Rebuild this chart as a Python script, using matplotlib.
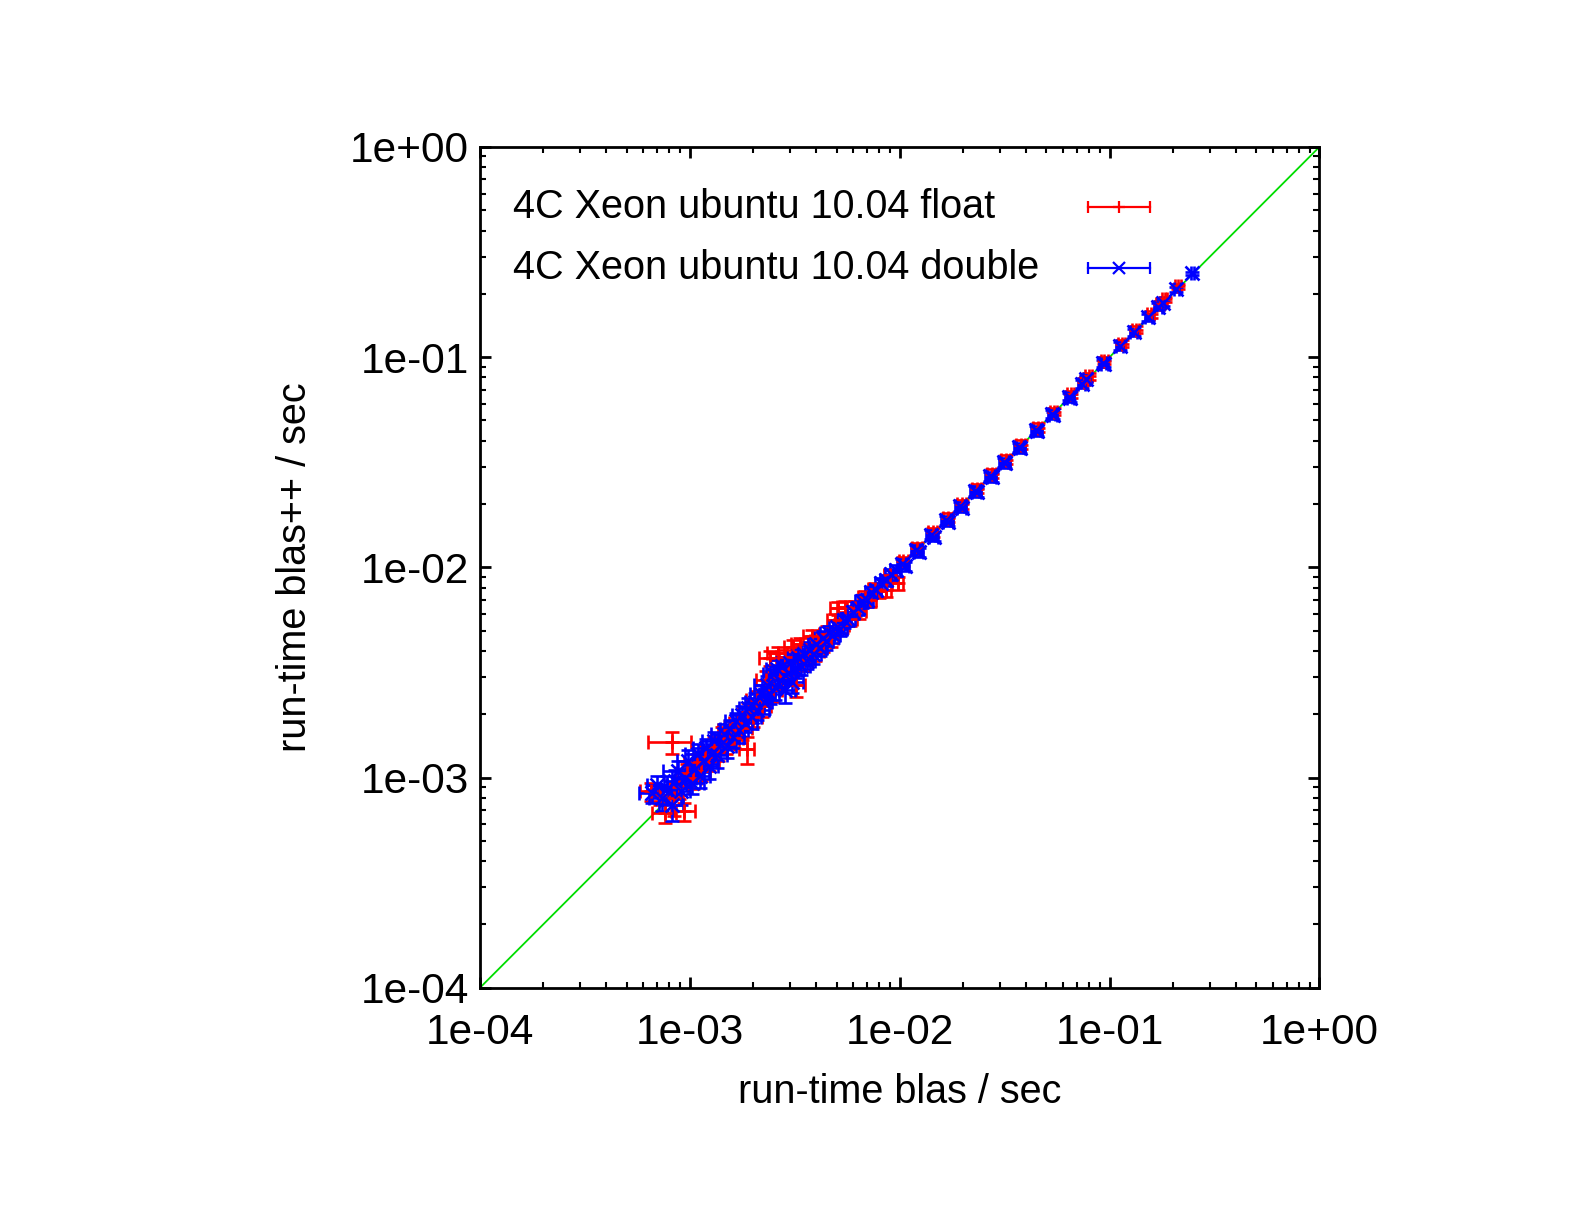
import numpy as np
import matplotlib
matplotlib.use("Agg")
import matplotlib.pyplot as plt
from matplotlib.ticker import FuncFormatter, LogLocator, NullFormatter

plt.rcParams['font.family'] = ['Liberation Sans', 'DejaVu Sans']

# ---- data ----
# float runs: x = run-time blas, y = run-time blas++, rx/ry = relative error
flt_x = [6.5e-4, 7.2e-4, 7.6e-4, 8.2e-4, 8.4e-4, 8.9e-4, 9.4e-4, 9.7e-4, 1.03e-3, 1.08e-3,
         1.13e-3, 1.18e-3, 1.24e-3, 1.3e-3, 1.36e-3, 1.42e-3, 1.48e-3, 1.55e-3, 1.62e-3, 1.7e-3,
         1.78e-3, 1.87e-3, 1.9e-3, 2.0e-3, 2.1e-3, 2.2e-3, 2.3e-3, 2.4e-3, 2.5e-3, 2.62e-3,
         2.7e-3, 2.85e-3, 2.95e-3, 3.1e-3, 3.2e-3, 3.35e-3, 3.45e-3, 3.6e-3, 3.8e-3, 3.95e-3,
         4.1e-3, 4.3e-3, 4.5e-3, 4.7e-3, 4.9e-3, 5.1e-3, 5.3e-3, 5.5e-3, 5.8e-3, 6.1e-3,
         6.4e-3, 6.8e-3, 7.2e-3, 7.6e-3, 8.0e-3, 8.6e-3, 9.0e-3, 9.8e-3,
         0.0104, 0.0121, 0.0144, 0.0170, 0.0197, 0.0233, 0.0275, 0.0320, 0.0377, 0.0455,
         0.0542, 0.0652, 0.0752, 0.0795, 0.0945, 0.114, 0.133, 0.157, 0.174, 0.183, 0.212]
flt_y = [8.6e-4, 8.3e-4, 6.8e-4, 1.47e-3, 8.0e-4, 9.0e-4, 6.9e-4, 1.05e-3, 1.0e-3, 1.18e-3,
         1.08e-3, 1.25e-3, 1.2e-3, 1.4e-3, 1.33e-3, 1.55e-3, 1.45e-3, 1.68e-3, 1.55e-3, 1.82e-3,
         1.72e-3, 1.36e-3, 2.05e-3, 1.95e-3, 2.35e-3, 2.2e-3, 2.9e-3, 3.7e-3, 2.6e-3, 3.9e-3,
         3.0e-3, 3.75e-3, 3.2e-3, 4.2e-3, 2.75e-3, 4.3e-3, 3.55e-3, 3.9e-3, 4.7e-3, 4.0e-3,
         4.45e-3, 4.35e-3, 4.8e-3, 4.6e-3, 5.6e-3, 6.4e-3, 5.3e-3, 6.5e-3, 5.7e-3, 6.4e-3,
         6.2e-3, 7.2e-3, 7.0e-3, 7.9e-3, 7.7e-3, 7.8e-3, 9.2e-3, 8.4e-3,
         0.0107, 0.0124, 0.0147, 0.0172, 0.0200, 0.0237, 0.0279, 0.0325, 0.0383, 0.0462,
         0.0550, 0.0665, 0.0765, 0.0810, 0.0962, 0.116, 0.135, 0.160, 0.178, 0.188, 0.217]
flt_rx = [.11, .10, .13, .23, .11, .10, .13, .11, .10, .13,
          .11, .10, .11, .13, .10, .11, .10, .12, .11, .10,
          .11, .08, .11, .10, .12, .11, .10, .11, .10, .11,
          .12, .10, .11, .09, .11, .09, .11, .10, .09, .10,
          .09, .09, .08, .08, .08, .09, .08, .09, .08, .08,
          .08, .07, .07, .07, .07, .06, .06, .06,
          .05, .05, .05, .05, .05, .05, .05, .05, .05, .05,
          .04, .04, .04, .04, .04, .04, .04, .04, .04, .03, .03]
flt_ry = [.10, .11, .11, .12, .18, .12, .10, .11, .12, .10,
          .11, .12, .10, .11, .10, .12, .11, .10, .11, .10,
          .12, .15, .10, .11, .10, .12, .11, .08, .12, .07,
          .10, .08, .11, .07, .12, .07, .10, .11, .07, .10,
          .09, .09, .09, .09, .07, .07, .08, .06, .08, .08,
          .08, .07, .07, .07, .07, .07, .06, .07,
          .05, .05, .05, .05, .05, .05, .05, .05, .05, .05,
          .04, .04, .04, .04, .04, .04, .04, .04, .04, .03, .03]

# double runs
dbl_x = [6.6e-4, 7.0e-4, 7.4e-4, 7.8e-4, 8.2e-4, 8.5e-4, 8.8e-4, 9.1e-4, 9.5e-4, 9.8e-4,
         1.02e-3, 1.06e-3, 1.09e-3, 1.12e-3, 1.16e-3, 1.2e-3, 1.23e-3, 1.27e-3, 1.31e-3, 1.35e-3,
         1.4e-3, 1.45e-3, 1.5e-3, 1.55e-3, 1.6e-3, 1.66e-3, 1.72e-3, 1.78e-3, 1.84e-3, 1.9e-3,
         1.97e-3, 2.04e-3, 2.1e-3, 2.18e-3, 2.25e-3, 2.32e-3, 2.4e-3, 2.48e-3, 2.55e-3, 2.6e-3,
         2.68e-3, 2.75e-3, 2.85e-3, 2.92e-3, 3.0e-3, 3.08e-3, 3.18e-3, 3.28e-3, 3.38e-3, 3.5e-3,
         3.62e-3, 3.75e-3, 3.88e-3, 4.0e-3, 4.15e-3, 4.3e-3, 4.45e-3, 4.6e-3, 4.8e-3, 5.0e-3,
         5.2e-3, 5.45e-3, 5.7e-3, 6.0e-3, 6.3e-3, 6.6e-3, 6.95e-3, 7.3e-3, 7.7e-3, 8.1e-3,
         8.6e-3, 9.1e-3, 9.6e-3,
         0.0102, 0.0106, 0.0119, 0.0123, 0.0141, 0.0145, 0.0166, 0.0170, 0.0193, 0.0198,
         0.0228, 0.0233, 0.0269, 0.0274, 0.0313, 0.0318, 0.0369, 0.0375, 0.0445, 0.0452,
         0.0530, 0.0538, 0.0638, 0.0650, 0.0736, 0.0776, 0.0927, 0.0945, 0.112, 0.130,
         0.153, 0.170, 0.179, 0.208, 0.248]
dbl_y = [8.4e-4, 9.2e-4, 8.0e-4, 8.8e-4, 7.4e-4, 9.6e-4, 1.08e-3, 8.6e-4, 1.0e-3, 1.2e-3,
         9.4e-4, 1.1e-3, 1.3e-3, 1.02e-3, 1.2e-3, 1.38e-3, 1.14e-3, 1.3e-3, 1.5e-3, 1.28e-3,
         1.45e-3, 1.62e-3, 1.42e-3, 1.7e-3, 1.56e-3, 1.85e-3, 1.68e-3, 1.98e-3, 1.82e-3, 2.15e-3,
         1.95e-3, 2.3e-3, 2.1e-3, 2.5e-3, 2.3e-3, 2.75e-3, 2.5e-3, 3.1e-3, 2.7e-3, 3.3e-3,
         2.9e-3, 3.4e-3, 2.6e-3, 3.15e-3, 3.5e-3, 2.85e-3, 3.3e-3, 3.7e-3, 3.4e-3, 3.85e-3,
         3.6e-3, 4.05e-3, 3.85e-3, 4.3e-3, 4.15e-3, 4.6e-3, 4.45e-3, 4.85e-3, 4.75e-3, 5.2e-3,
         5.1e-3, 5.6e-3, 5.65e-3, 6.1e-3, 6.4e-3, 6.9e-3, 7.0e-3, 7.6e-3, 7.8e-3, 8.4e-3,
         8.7e-3, 9.3e-3, 9.7e-3,
         0.0104, 0.0101, 0.0121, 0.0118, 0.0143, 0.0140, 0.0168, 0.0165, 0.0195, 0.0192,
         0.0231, 0.0227, 0.0272, 0.0268, 0.0316, 0.0312, 0.0373, 0.0368, 0.0450, 0.0443,
         0.0536, 0.0528, 0.0648, 0.0640, 0.0745, 0.0790, 0.0935, 0.0930, 0.113, 0.131,
         0.155, 0.174, 0.181, 0.210, 0.250]
dbl_rx = [.13, .11, .14, .10, .13, .11, .15, .10, .13, .11,
          .14, .10, .13, .11, .10, .14, .11, .10, .13, .11,
          .10, .13, .11, .10, .13, .11, .10, .11, .13, .10,
          .11, .10, .13, .11, .10, .13, .11, .10, .13, .11,
          .10, .12, .11, .10, .11, .12, .10, .11, .10, .11,
          .09, .10, .09, .09, .08, .09, .08, .09, .08, .08,
          .08, .08, .07, .07, .07, .07, .07, .06, .06, .06,
          .06, .06, .06,
          .05, .05, .05, .05, .05, .05, .05, .05, .05, .05,
          .05, .05, .05, .05, .05, .05, .05, .05, .05, .05,
          .04, .04, .04, .04, .04, .04, .04, .04, .04, .04,
          .04, .04, .03, .03, .02]
dbl_ry = [.10, .11, .13, .15, .16, .13, .11, .14, .10, .13,
          .11, .10, .11, .13, .11, .10, .14, .11, .10, .13,
          .10, .11, .13, .10, .11, .10, .13, .11, .10, .11,
          .13, .10, .11, .10, .13, .11, .10, .11, .13, .10,
          .11, .10, .13, .11, .10, .11, .10, .11, .10, .11,
          .09, .09, .10, .09, .09, .08, .09, .08, .08, .08,
          .08, .08, .07, .07, .07, .07, .07, .06, .06, .06,
          .06, .06, .06,
          .05, .05, .05, .05, .05, .05, .05, .05, .05, .05,
          .05, .05, .05, .05, .05, .05, .05, .05, .05, .05,
          .04, .04, .04, .04, .04, .04, .04, .04, .04, .04,
          .04, .04, .03, .03, .02]

labels = ["4C Xeon ubuntu 10.04 float", "4C Xeon ubuntu 10.04 double"]
colors = ["#ff0000", "#0000ff"]
markers = ["+", "x"]

fig = plt.figure(figsize=(15.84, 12.24), dpi=100)
ax = fig.add_axes([0.303, 0.193, 0.530, 0.687])
ax.set_xscale("log")
ax.set_yscale("log")
ax.set_xlim(1e-4, 1)
ax.set_ylim(1e-4, 1)

# y = x reference line
ref = np.array([1e-4, 1.0])
ax.plot(ref, ref, color="#00dd00", lw=1.3, zorder=1)

lw = 1.9
series = [(flt_x, flt_y, flt_rx, flt_ry), (dbl_x, dbl_y, dbl_rx, dbl_ry)]
for (x, y, rx, ry), c, m in zip(series, colors, markers):
    x = np.array(x); y = np.array(y)
    ax.errorbar(x, y, xerr=x * np.array(rx), yerr=y * np.array(ry), fmt=m, color=c,
                ms=10, mew=lw, elinewidth=lw, capsize=5, capthick=lw, zorder=2)

# legend drawn gnuplot style: text left, sample on the right
fs = 28.5
for i, (lab, c, m) in enumerate(zip(labels, colors, markers)):
    yy = 0.928 - i * 0.0725
    ax.text(0.039, yy, lab, transform=ax.transAxes, fontsize=fs, va="center", ha="left")
    ax.plot([0.724, 0.798], [yy, yy], transform=ax.transAxes, color=c, lw=1.6)
    ax.plot([0.724, 0.798], [yy, yy], transform=ax.transAxes, color=c, ls="none",
            marker="|", ms=9, mew=1.6)
    ax.plot([0.761], [yy], transform=ax.transAxes, color=c, ls="none",
            marker=m, ms=9, mew=1.6)

fmt = FuncFormatter(lambda v, p: "%.0e" % v)
for axis in (ax.xaxis, ax.yaxis):
    axis.set_major_locator(LogLocator(base=10, numticks=10))
    axis.set_minor_locator(LogLocator(base=10, subs=np.arange(2, 10), numticks=10))
    axis.set_major_formatter(fmt)
    axis.set_minor_formatter(NullFormatter())

ax.tick_params(which="both", direction="in", top=True, right=True)
ax.tick_params(which="major", length=8, width=2.0, labelsize=30.5)
ax.tick_params(which="minor", length=4, width=1.5)
ax.tick_params(axis="x", which="major", pad=18)
ax.tick_params(axis="y", which="major", pad=8)
for s in ax.spines.values():
    s.set_linewidth(2.0)

ax.set_xlabel("run-time blas / sec", fontsize=fs)
ax.set_ylabel("run-time blas++ / sec", fontsize=fs)
ax.xaxis.set_label_coords(0.5, -0.124)
ax.yaxis.set_label_coords(-0.220, 0.5)
ax.xaxis.label.set_va("center")
ax.yaxis.label.set_va("center")

fig.savefig("out.png", dpi=100)
